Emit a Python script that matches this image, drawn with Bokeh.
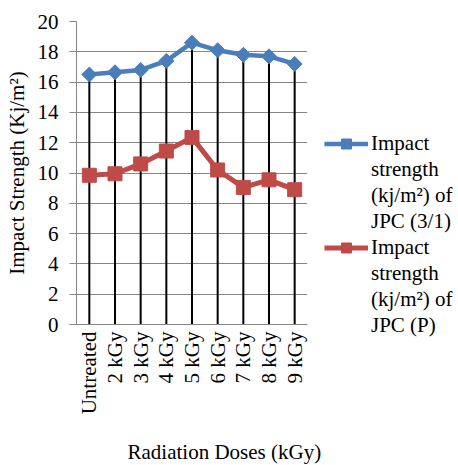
import math
from bokeh.plotting import figure
from bokeh.models import FactorRange, Range1d, FixedTicker, Legend, LegendItem, ColumnDataSource, Title
from bokeh.embed import file_html
from bokeh.resources import INLINE

categories = ["Untreated", "2 kGy", "3 kGy", "4 kGy", "5 kGy", "6 kGy", "7 kGy", "8 kGy", "9 kGy"]
jpc_31 = [16.5, 16.65, 16.8, 17.4, 18.6, 18.1, 17.8, 17.7, 17.2]
jpc_p = [9.85, 9.95, 10.6, 11.45, 12.35, 10.2, 9.05, 9.55, 8.9]
y_ticks = [0, 2, 4, 6, 8, 10, 12, 14, 16, 18, 20]
series_labels = [
    ["Impact", "strength", "(kj/m²) of", "JPC (3/1)"],
    ["Impact", "strength", "(kj/m²) of", "JPC (P)"],
]
x_title = "Radiation Doses (kGy)"
y_title = "Impact Strength (Kj/m²)"

FONT = "Liberation Serif"
FS = "21px"
BLUE = "#4A7EBB"
RED = "#BE4B48"
GRID = "#868686"

p = figure(
    x_range=FactorRange(factors=categories, range_padding=0),
    y_range=Range1d(0, 20),
    frame_width=231, frame_height=303,
    min_border_left=76, min_border_right=150, min_border_top=21, min_border_bottom=140,
    output_backend="svg", toolbar_location=None,
)
p.outline_line_color = None
p.background_fill_color = "white"
p.border_fill_color = "white"

# drop lines
tops = [max(a, b) for a, b in zip(jpc_31, jpc_p)]
p.segment(x0=categories, y0=[0] * len(categories), x1=categories, y1=tops,
          line_color="black", line_width=2)

src1 = ColumnDataSource(dict(x=categories, y=jpc_31))
src2 = ColumnDataSource(dict(x=categories, y=jpc_p))
l1 = p.line("x", "y", source=src1, line_color=BLUE, line_width=4.5)
m1 = p.scatter("x", "y", source=src1, marker="square", angle=math.pi / 4, size=10.6,
               fill_color=BLUE, line_color=BLUE)
l2 = p.line("x", "y", source=src2, line_color=RED, line_width=5)
m2 = p.scatter("x", "y", source=src2, marker="square", size=14,
               fill_color=RED, line_color=RED)
dummy = p.line([], [], line_alpha=0)

# axes
p.yaxis.ticker = FixedTicker(ticks=y_ticks)
p.yaxis.major_label_text_font = FONT
p.yaxis.major_label_text_font_size = FS
p.yaxis.major_label_text_color = "black"
p.yaxis.axis_line_color = GRID
p.yaxis.major_tick_line_color = GRID
p.yaxis.major_tick_out = 7
p.yaxis.major_tick_in = 0
p.yaxis.minor_tick_line_color = None
p.yaxis.major_label_standoff = 11
p.yaxis.axis_label = y_title
p.yaxis.axis_label_text_font = FONT
p.yaxis.axis_label_text_font_size = FS
p.yaxis.axis_label_text_font_style = "normal"
p.yaxis.axis_label_text_color = "black"
p.yaxis.axis_label_standoff = 6

p.xaxis.major_label_orientation = math.pi / 2
p.xaxis.major_label_text_font = FONT
p.xaxis.major_label_text_font_size = FS
p.xaxis.major_label_text_color = "black"
p.xaxis.axis_line_color = GRID
p.xaxis.major_tick_line_color = None
p.xaxis.major_tick_out = 0
p.xaxis.major_label_standoff = 7

p.add_layout(Title(text=x_title, align="left", offset=51, standoff=40,
                   text_font=FONT, text_font_size=FS, text_font_style="normal",
                   text_color="black"), "below")

p.xgrid.grid_line_color = None
p.ygrid.grid_line_color = GRID
p.ygrid.ticker = FixedTicker(ticks=y_ticks)

items = []
for labels, rends in zip(series_labels, [[l1, m1], [l2, m2]]):
    items.append(LegendItem(label=labels[0], renderers=rends))
    items += [LegendItem(label=t, renderers=[dummy]) for t in labels[1:]]

legend = Legend(items=items, location=(17, -14), padding=0, margin=0, spacing=1,
                glyph_width=44, glyph_height=25, label_height=25, label_standoff=3,
                label_text_font=FONT, label_text_font_size=FS, label_text_color="black",
                border_line_color=None, background_fill_alpha=0)
p.add_layout(legend, "right")

open("out.html", "w").write(file_html(p, INLINE))
